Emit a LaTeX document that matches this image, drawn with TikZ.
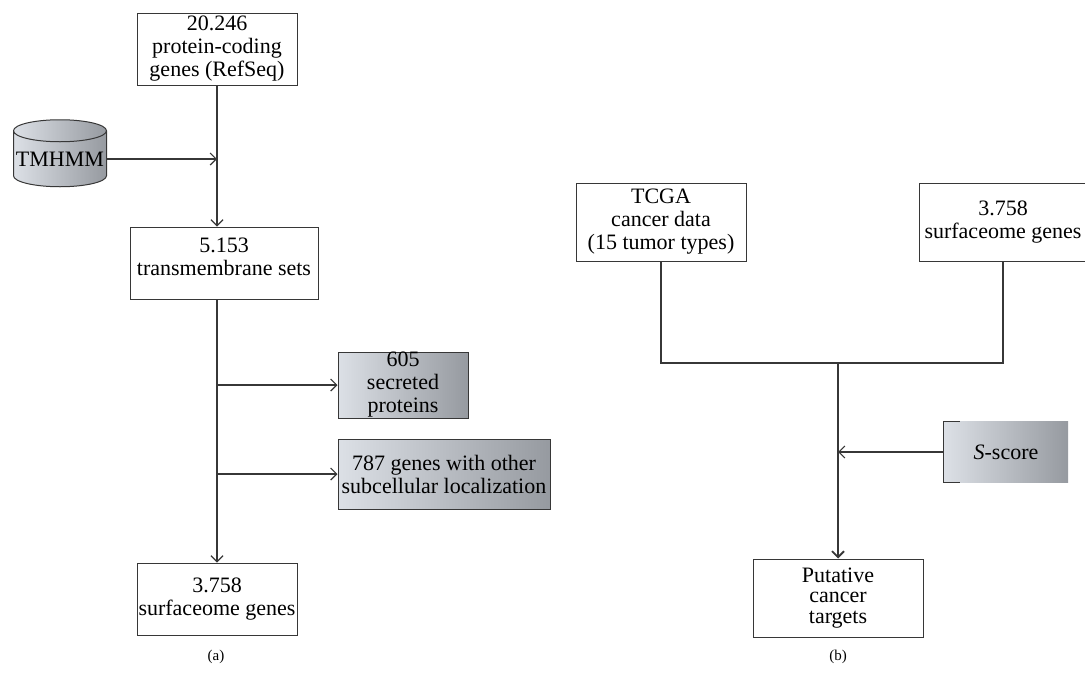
\documentclass[tikz,border=0pt]{standalone}
\usepackage{fontspec}
\setmainfont{Liberation Serif}
\usetikzlibrary{shapes.geometric, arrows.meta}

\definecolor{boxline}{RGB}{55,55,55}
\definecolor{shadelight}{RGB}{220,224,230}
\definecolor{shadedark}{RGB}{150,154,160}

\begin{document}
\begin{tikzpicture}[
    x=1pt, y=-1pt,
    font=\fontsize{22}{23}\selectfont,
    block/.style={rectangle, draw=boxline, line width=1pt, fill=white, align=center, inner sep=0pt},
    grey_block/.style={rectangle, draw=boxline, line width=1pt, left color=shadelight, right color=shadedark, align=center, inner sep=0pt},
    db/.style={cylinder, shape border rotate=90, aspect=0.25, draw=boxline, line width=1pt, left color=shadelight, right color=shadedark, inner sep=0pt},
    line/.style={boxline, line width=1.2pt},
    arrow/.style={line, -{Straight Barb[length=6pt, width=12pt]}}
]
    \useasboundingbox (0,0) rectangle (1085,675);

    % Part (a): surfaceome
    \node[block, minimum width=160pt, minimum height=72pt] (refseq) at (217,49) {20.246\\protein-coding\\genes (RefSeq)};
    \node[db, minimum width=93pt, minimum height=67pt] (tmhmm) at (60,159) {TMHMM};
    \node[block, minimum width=188pt, minimum height=72pt] (transmem) at (224,263) {5.153\\transmembrane sets\rule[-12pt]{0pt}{12pt}};
    \node[grey_block, minimum width=130pt, minimum height=66pt] (secreted) at (403,385) {605\\secreted\\proteins};
    \node[grey_block, minimum width=212pt, minimum height=70pt] (other) at (444,474) {787 genes with other\\subcellular localization};
    \node[block, minimum width=160pt, minimum height=72pt] (surface_a) at (217,599) {3.758\\surfaceome genes};

    \draw[arrow] (refseq.south) -- (refseq.south |- transmem.north);
    \draw[arrow] (tmhmm.east) -- (tmhmm.east -| refseq.south);
    \draw[arrow] (refseq.south |- transmem.south) -- (surface_a.north);
    \draw[arrow] (secreted.west -| surface_a.north) -- (secreted.west);
    \draw[arrow] (other.west -| surface_a.north) -- (other.west);

    \node (label_a) at (216,657) {\fontsize{15}{17}\selectfont (a)};

    % Part (b): cancer targets
    \node[block, minimum width=170pt, minimum height=78pt] (tcga) at (661,222) {TCGA\\cancer data\\(15 tumor types)};
    \node[block, minimum width=168pt, minimum height=78pt] (surface_b) at (1003,222) {3.758\\surfaceome genes};
    \node[rectangle, left color=shadelight, right color=shadedark, minimum width=124pt, minimum height=61pt, inner sep=0pt] (score) at (1006,452) {\textit{S}-score};
    \node[block, minimum width=170pt, minimum height=78pt, font=\fontsize{22}{20.5}\selectfont] (targets) at (838,598) {Putative\\cancer\\targets};
    \coordinate (merge) at (838,363);

    \draw[line] (tcga.south) |- (merge) -| (surface_b.south);
    \draw[arrow, line width=1.8pt] (merge) -- (targets.north);
    \draw[arrow] (score.west) -- (score.west -| targets.north);
    \draw[line] ([xshift=16pt]score.north west) -- (score.north west) -- (score.south west) -- ([xshift=16pt]score.south west);

    \node (label_b) at (838,657) {\fontsize{15}{17}\selectfont (b)};

\end{tikzpicture}
\end{document}
